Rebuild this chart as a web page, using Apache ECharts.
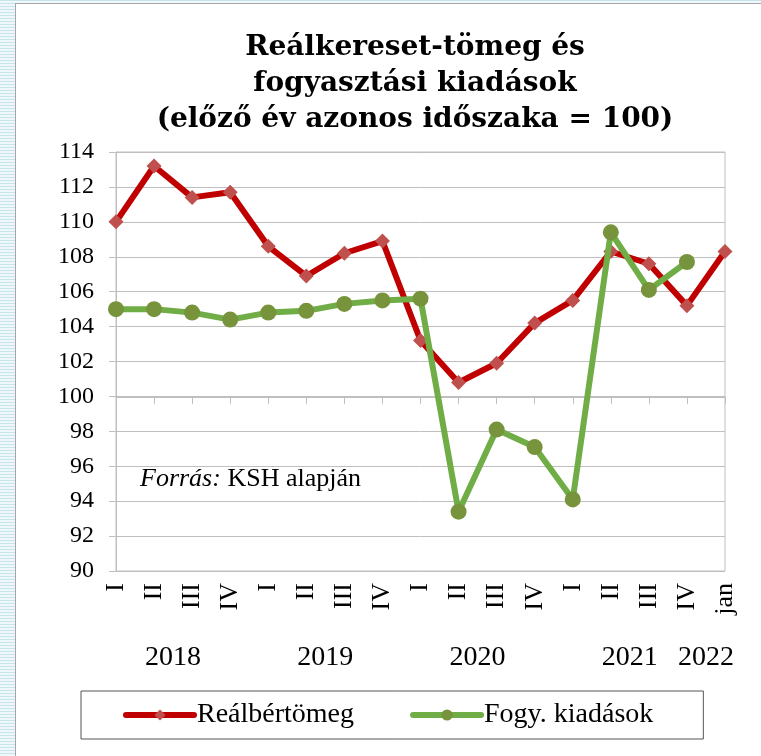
<!DOCTYPE html>
<html>
<head>
<meta charset="utf-8">
<title>Reálkereset-tömeg és fogyasztási kiadások</title>
<script src="https://cdn.jsdelivr.net/npm/echarts@6/dist/echarts.min.js"></script>
<style>
    html, body { margin: 0; padding: 0; width: 761px; height: 756px; overflow: hidden; }
    body { background: repeating-linear-gradient(to bottom, #c6e4ea 0px, #c6e4ea 1px, #eef8fa 1px, #eef8fa 3px); }
    #main { position: absolute; left: 15px; top: 3px; width: 746px; height: 753px; background: #fff;
            border-left: 1px solid #a6a6a6; border-top: 1px solid #a6a6a6; }
</style>
</head>
<body>
<div id="main"></div>
<script>
// negyedévek (x tengely)
var quarters = ['I', 'II', 'III', 'IV', 'I', 'II', 'III', 'IV', 'I', 'II', 'III', 'IV', 'I', 'II', 'III', 'IV', 'jan'];
// évek és hány kategória tartozik hozzájuk
var years = ['2018', '2019', '2020', '2021', '2022'];
var yearCounts = [4, 4, 4, 4, 1];
// előző év azonos időszaka = 100
var realWage = [110.0, 113.2, 111.4, 111.7, 108.6, 106.9, 108.2, 108.9, 103.2, 100.8, 101.9, 104.2, 105.5, 108.3, 107.6, 105.2, 108.3];
var consumption = [105.0, 105.0, 104.8, 104.4, 104.8, 104.9, 105.3, 105.5, 105.6, 93.4, 98.1, 97.1, 94.1, 109.4, 106.1, 107.7, null];
var yMin = 90, yMax = 114, yStep = 2;
var crossAt = 100; // a vízszintes tengely itt metszi az y tengelyt

var serif = '"Liberation Serif", "Times New Roman", serif';

// évcímkék helye a kategóriák közepén (az utolsót Excel-szerűen beljebb tolja)
var yearPos = {};
var start = 0;
for (var i = 0; i < years.length; i++) {
    var p = yearCounts[i] > 1 ? start + (yearCounts[i] - 1) / 2 : start - 0.5;
    yearPos[p.toFixed(1)] = years[i];
    start += yearCounts[i];
}

var myChart = echarts.init(document.getElementById('main'));

var gridTop = 148, gridBottom = 186, gridHeight = 752 - gridTop - gridBottom;
var crossOffset = -(crossAt - yMin) / (yMax - yMin) * gridHeight;

var option = {
    animation: false,
    title: {
        text: 'Reálkereset-tömeg és\nfogyasztási kiadások\n(előző év azonos időszaka = 100)',
        left: 394,
        top: 21,
        textAlign: 'center',
        textStyle: {
            fontFamily: '"DejaVu Serif", serif',
            fontWeight: 'bold',
            fontSize: 28,
            lineHeight: 36,
            color: '#000'
        }
    },
    grid: {
        left: 100,
        right: 37,
        top: gridTop,
        bottom: gridBottom,
        show: true,
        borderColor: '#bfbfbf',
        borderWidth: 1
    },
    legend: {
        left: 65,
        top: 687,
        padding: [10, 50, 10, 42],
        borderColor: '#555',
        borderWidth: 1,
        borderRadius: 0,
        itemWidth: 68,
        itemHeight: 14,
        itemGap: 56,
        lineStyle: { width: 6, cap: 'round' },
        textStyle: { fontFamily: serif, fontSize: 28, color: '#000', padding: [0, 0, 0, -2] },
        data: ['Reálbértömeg', 'Fogy. kiadások']
    },
    xAxis: [{
        type: 'category',
        boundaryGap: false,
        data: quarters,
        axisLine: { show: false },
        axisTick: { show: false },
        axisLabel: {
            rotate: 90,
            margin: 12,
            interval: 0,
            fontFamily: serif,
            fontSize: 26,
            color: '#000'
        }
    }, {
        type: 'category',
        boundaryGap: false,
        data: quarters,
        position: 'bottom',
        offset: crossOffset,
        axisLine: { show: true, lineStyle: { color: '#bfbfbf', width: 1 } },
        axisTick: { show: true, length: 7, interval: 0, lineStyle: { color: '#bfbfbf' } },
        axisLabel: { show: false },
        splitLine: { show: false }
    }, {
        type: 'value',
        min: 0,
        max: quarters.length - 1,
        interval: 0.5,
        position: 'bottom',
        axisLine: { show: false },
        axisTick: { show: false },
        splitLine: { show: false },
        axisLabel: {
            margin: 73,
            fontFamily: serif,
            fontSize: 28,
            color: '#000',
            formatter: function (v) {
                return yearPos[v.toFixed(1)] || '';
            }
        }
    }],
    yAxis: {
        type: 'value',
        min: yMin,
        max: yMax,
        interval: yStep,
        axisLine: { show: true, lineStyle: { color: '#bfbfbf' } },
        axisTick: { show: true, length: 7, lineStyle: { color: '#bfbfbf' } },
        splitLine: { lineStyle: { color: '#bfbfbf' } },
        axisLabel: {
            margin: 22,
            fontFamily: serif,
            fontSize: 24,
            color: '#000'
        }
    },
    graphic: [{
        type: 'text',
        left: 124,
        top: 462,
        style: {
            text: '{i|Forrás:} KSH alapján',
            font: '26px ' + serif,
            fill: '#000',
            rich: {
                i: { fontStyle: 'italic', fontFamily: serif, fontSize: 26 }
            }
        }
    }],
    series: [{
        name: 'Reálbértömeg',
        type: 'line',
        xAxisIndex: 0,
        data: realWage,
        symbol: 'diamond',
        symbolSize: 15,
        itemStyle: { color: '#c0504d' },
        lineStyle: { color: '#c00000', width: 6, cap: 'round' },
        z: 2
    }, {
        name: 'Fogy. kiadások',
        type: 'line',
        xAxisIndex: 0,
        data: consumption,
        symbol: 'circle',
        symbolSize: 16,
        itemStyle: { color: '#77933c' },
        lineStyle: { color: '#70ad47', width: 6, cap: 'round' },
        z: 3
    }]
};

myChart.setOption(option);
window.onresize = myChart.resize;
</script>
</body>
</html>
